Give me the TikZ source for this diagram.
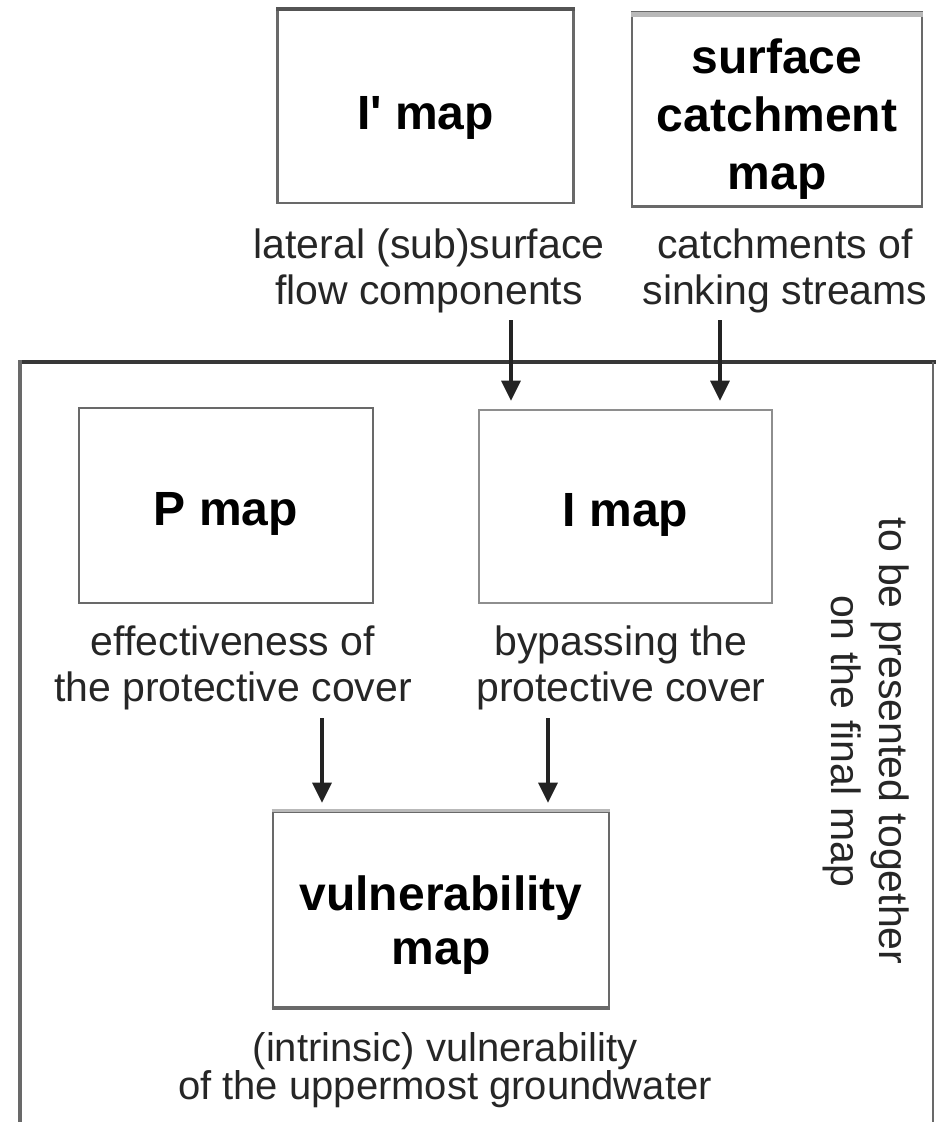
\documentclass[tikz,border=0pt]{standalone}
\usepackage{fontspec}
\setmainfont{Liberation Sans}[Ligatures=TeXOff]
\usetikzlibrary{arrows.meta}
\definecolor{edgegray}{RGB}{105,105,105}
\definecolor{edgelight}{RGB}{185,185,185}
\definecolor{framedark}{RGB}{55,55,55}
\definecolor{arrowgray}{RGB}{35,35,35}
% invisible strut that pushes a title line a little lower in its box
\newcommand\titlelift[1]{\rule{0pt}{#1}}
\tikzset{
  mapbox/.style={draw=edgegray, line width=2.6pt, fill=white, inner sep=0pt,
    align=center, font=\fontsize{48}{58}\selectfont\bfseries},
  desc/.style={inner sep=0pt, align=center, text=black!85,
    font=\fontsize{41}{46}\selectfont},
  flow/.style={draw=arrowgray, line width=3.2pt,
    -{Triangle[width=19pt,length=20pt]}, shorten >=8pt}
}
\begin{document}
\begin{tikzpicture}[x=1pt,y=-1pt]
  \useasboundingbox (0,0) rectangle (936,1122);
  \fill[white] (0,0) rectangle (936,1122);

  % enclosing frame, open at the bottom
  \draw[framedark, line width=3.2pt] (20,362) -- (936,362);
  \draw[edgegray, line width=3.6pt] (20,360.4) -- (20,1122);
  \draw[edgegray, line width=1.6pt] (933,362) -- (933,1122);

  % input maps above the frame
  \node[mapbox, minimum width=296pt, minimum height=193pt] (iprime) at (425.5,106.5) {\titlelift{55pt}I' map};
  \node[mapbox, minimum width=290pt, minimum height=194pt] (catch) at (777,109.5) {\titlelift{53pt}surface\\catchment\\map};
  \draw[edgegray!80!black, line width=4pt] (iprime.north west) -- (iprime.north east);
  \draw[edgelight, line width=5pt] ([yshift=-3pt]catch.north west) -- ([yshift=-3pt]catch.north east);
  \node[desc] (latdesc) at (429,271) {lateral (sub)surface\\flow components};
  \node[desc] (catchdesc) at (785,271) {catchments of\\sinking streams};

  % maps inside the frame
  \node[mapbox, minimum width=294pt, minimum height=195pt] (pmap) at (226,505.5) {\titlelift{50pt}P map};
  \node[mapbox, draw=edgegray!75, minimum width=293pt, minimum height=193pt] (imap) at (625.5,506.5) {\titlelift{50pt}I map};
  \node[desc] (pdesc) at (233,668) {effectiveness of\\the protective cover};
  \node[desc] (idesc) at (621,668) {bypassing the\\protective cover};

  \node[mapbox, minimum width=336pt, minimum height=195pt] (vmap) at (441,909.5) {\titlelift{66pt}vulnerability\\[-4pt]map};
  \draw[edgelight, line width=3pt] (vmap.north west) -- (vmap.north east);
  \draw[edgegray, line width=3.6pt] (vmap.south west) -- (vmap.south east);
  \node[desc, font=\fontsize{40}{38}\selectfont] (vdesc) at (445,1070) {(intrinsic) vulnerability\\of the uppermost groundwater};

  % side note
  \node[desc, rotate=-90, font=\fontsize{41}{48}\selectfont] (note) at (866,741) {to be presented together\\on the final map};

  % connectors
  \coordinate (s1) at (511,320);
  \coordinate (s2) at (720,320);
  \coordinate (s3) at (322,718);
  \coordinate (s4) at (548,718);
  \draw[flow] (s1) -- (s1 |- imap.north);
  \draw[flow] (s2) -- (s2 |- imap.north);
  \draw[flow] (s3) -- (s3 |- vmap.north);
  \draw[flow] (s4) -- (s4 |- vmap.north);
\end{tikzpicture}
\end{document}
